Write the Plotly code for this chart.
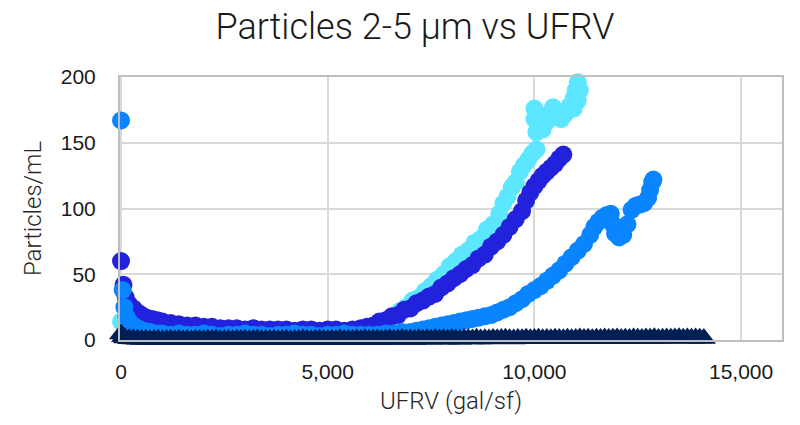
import plotly.graph_objects as go

# ---------------- data ----------------
cyan_x = [0, 150, 400, 800, 1300, 2000, 2800, 3600, 4400, 5200,
          5800, 6100, 6300, 6450, 6600, 6750, 6900, 7050, 7200, 7350,
          7500, 7650, 7800, 7950, 8100, 8250, 8400, 8550, 8700, 8850,
          9000, 9150, 9250, 9350, 9450, 9550, 9650, 9750, 9850, 9950,
          10050, 10050, 10000, 10000, 10100, 10200, 10300, 10350, 10450, 10550,
          10650, 10750, 10850, 10950, 11000, 11050, 11100, 11050, 10950]
cyan_y = [14, 10, 8, 7, 6, 5, 5, 5, 5, 5,
          6, 8, 10, 13, 17, 22, 25, 30, 32, 37,
          41, 46, 50, 56, 60, 65, 68, 74, 77, 84,
          88, 96, 104, 109, 116, 120, 128, 133, 137, 142,
          145, 158, 168, 176, 164, 160, 166, 172, 177, 172,
          168, 172, 178, 184, 190, 196, 190, 182, 176]

purple_x = [0, 60, 120, 200, 300, 400, 500, 620, 750, 880,
            1000, 1200, 1400, 1600, 1800, 2000, 2200, 2400, 2600, 2800,
            3000, 3200, 3400, 3600, 3800, 4000, 4200, 4400, 4600, 4800,
            5000, 5200, 5400, 5600, 5800, 5950, 6100, 6250, 6400, 6550,
            6700, 6850, 7000, 7150, 7300, 7450, 7600, 7750, 7900, 8050,
            8200, 8350, 8500, 8650, 8800, 8950, 9100, 9250, 9400, 9550,
            9700, 9800, 9900, 10000, 10100, 10200, 10300, 10400, 10500, 10600,
            10700]
purple_y = [60, 42, 32, 27, 24, 21, 19, 17, 16, 15,
            14, 13, 12, 11, 11, 10, 10, 9, 9, 9,
            8, 9, 8, 8, 8, 8, 7, 8, 8, 7,
            8, 8, 7, 8, 9, 10, 11, 14, 15, 18,
            19, 23, 24, 28, 30, 33, 35, 40, 43, 47,
            50, 54, 57, 62, 65, 71, 75, 80, 86, 92,
            98, 106, 112, 117, 121, 125, 128, 131, 134, 138,
            141]

blue_x = [0, 40, 80, 130, 200, 300, 400, 550, 700, 850,
          1000, 1200, 1400, 1600, 1800, 2000, 2200, 2400, 2600, 2800,
          3000, 3200, 3400, 3600, 3800, 4000, 4200, 4400, 4600, 4800,
          5000, 5200, 5400, 5600, 5800, 6000, 6200, 6400, 6600, 6800,
          7000, 7150, 7300, 7450, 7600, 7750, 7900, 8050, 8200, 8350,
          8500, 8650, 8800, 8950, 9100, 9250, 9400, 9550, 9700, 9850,
          10000, 10150, 10300, 10450, 10600, 10750, 10900, 11050, 11200, 11350,
          11450, 11550, 11650, 11750, 11850, 11900, 11950, 12050, 12150, 12250,
          12350, 12450, 12550, 12650, 12750, 12800, 12850, 12880]
blue_y = [167, 38, 25, 18, 14, 11, 9, 7, 6, 5,
          5, 4, 5, 4, 4, 5, 4, 3, 4, 4,
          5, 4, 4, 3, 4, 4, 5, 4, 4, 3,
          4, 4, 5, 4, 4, 4, 4, 5, 5, 6,
          6, 7, 8, 9, 10, 11, 12, 13, 14, 15,
          16, 17, 18, 19, 21, 23, 25, 28, 31, 35,
          38, 41, 45, 49, 53, 58, 63, 68, 73, 80,
          86, 90, 93, 95, 96, 88, 81, 78, 80, 88,
          99, 102, 103, 104, 108, 114, 120, 122]

navy_x = [0, 50,
          100, 200, 300, 400, 500, 600, 700, 800, 900, 1000,
          1100, 1200, 1300, 1400, 1500, 1600, 1700, 1800, 1900, 2000,
          2100, 2200, 2300, 2400, 2500, 2600, 2700, 2800, 2900, 3000,
          3100, 3200, 3300, 3400, 3500, 3600, 3700, 3800, 3900, 4000,
          4100, 4200, 4300, 4400, 4500, 4600, 4700, 4800, 4900, 5000,
          5100, 5200, 5300, 5400, 5500, 5600, 5700, 5800, 5900, 6000,
          6100, 6200, 6300, 6400, 6500, 6600, 6700, 6800, 6900, 7000,
          7100, 7200, 7300, 7400, 7500, 7600, 7700, 7800, 7900, 8000,
          8100, 8200, 8300, 8400, 8500, 8600, 8700, 8800, 8900, 9000,
          9100, 9200, 9300, 9400, 9500, 9600, 9700, 9800, 9900, 10000,
          10100, 10200, 10300, 10400, 10500, 10600, 10700, 10800, 10900, 11000,
          11100, 11200, 11300, 11400, 11500, 11600, 11700, 11800, 11900, 12000,
          12100, 12200, 12300, 12400, 12500, 12600, 12700, 12800, 12900, 13000,
          13100, 13200, 13300, 13400, 13500, 13600, 13700, 13800, 13900, 14000,
          14100]
navy_y = [4.5, 2.5,
          1.6, 1.0, 0.7, 0.5, 0.3, 0.6, 0.2, 0.4, 0.6, 0.1,
          0.3, 0.5, 0.2, 0.6, 0.2, 0.4, 0.1, 0.5, 0.3, 0.2,
          0.5, 0.3, 0.7, 0.1, 0.3, 0.4, 0.2, 0.6, 0.3, 0.5,
          0.1, 0.3, 0.7, 0.2, 0.4, 0.3, 0.5, 0.1, 0.3, 0.6,
          0.2, 0.4, 0.3, 0.7, 0.3, 0.1, 0.5, 0.8, 0.3, 0.4,
          0.6, 0.2, 0.9, 0.3, 0.5, 0.3, 0.7, 0.4, 1.0, 0.3,
          0.6, 0.8, 0.3, 0.5, 0.9, 0.4, 0.7, 1.1, 0.5, 0.8,
          0.4, 1.0, 0.6, 0.9, 0.5, 1.2, 0.7, 0.9, 0.6, 1.1,
          0.8, 0.6, 1.2, 0.9, 0.7, 1.3, 0.8, 1.0, 0.7, 1.2,
          0.9, 1.1, 1.3, 1.0, 0.8, 1.2, 1.0, 1.4, 0.9, 1.1,
          1.3, 0.9, 1.2, 1.0, 1.4, 1.1, 0.9, 1.3, 1.0, 1.2,
          1.5, 1.1, 1.3, 1.0, 1.4, 1.2, 1.6, 1.1, 1.3, 1.5,
          1.2, 1.4, 1.1, 1.6, 1.3, 1.2, 1.5, 1.4, 1.7, 1.2,
          1.4, 1.6, 1.3, 1.5, 1.7, 1.4, 1.6, 1.3, 1.5, 1.4,
          1.2]

x_ticks = [0, 5000, 10000, 15000]
y_ticks = [0, 50, 100, 150, 200]

# ---------------- figure ----------------
fig = go.Figure()

def add(xs, ys, color, symbol="circle", size=18):
    fig.add_trace(go.Scatter(
        x=xs, y=ys, mode="markers", cliponaxis=False,
        marker=dict(color=color, size=size, symbol=symbol, line=dict(width=0)),
        hoverinfo="x+y",
    ))

add(cyan_x, cyan_y, "#5CE6FF")
add(purple_x, purple_y, "#2222DD")
add(blue_x, blue_y, "#0A84FF")
add(navy_x, navy_y, "#001F54", symbol="triangle-up", size=21)

tick_font = dict(family="Liberation Sans, Arial, sans-serif", size=21, color="#1a1a1a")
title_font = dict(family="Roboto, sans-serif", size=24, color="#262626", weight=300)

fig.update_layout(
    width=800, height=425,
    margin=dict(l=120, r=18, t=77, b=85),
    paper_bgcolor="white", plot_bgcolor="white",
    showlegend=False,
    title=dict(text="Particles 2-5 µm vs UFRV", x=415/800, xanchor="center",
               y=1 - 26/425, yanchor="middle",
               font=dict(family="Roboto, sans-serif", size=36, color="#1a1a1a", weight=300)),
    xaxis=dict(range=[-25, 15990], tickvals=x_ticks, tickformat=",",
               showgrid=True, gridcolor="#d9d9d9", gridwidth=1.5,
               showline=True, mirror=True, linecolor="#bfbfbf", linewidth=2,
               zeroline=False, ticks="", tickfont=tick_font, ticklabelstandoff=12,
               title=dict(text="UFRV (gal/sf)", font=title_font, standoff=10)),
    yaxis=dict(range=[0, 200], tickvals=y_ticks,
               showgrid=True, gridcolor="#d9d9d9", gridwidth=1.5,
               showline=True, mirror=True, linecolor="#bfbfbf", linewidth=2,
               zeroline=False, ticks="", tickfont=tick_font, ticklabelstandoff=18,
               title=dict(text="Particles/mL", font=title_font, standoff=12)),
)

fig.write_html("out.html")
